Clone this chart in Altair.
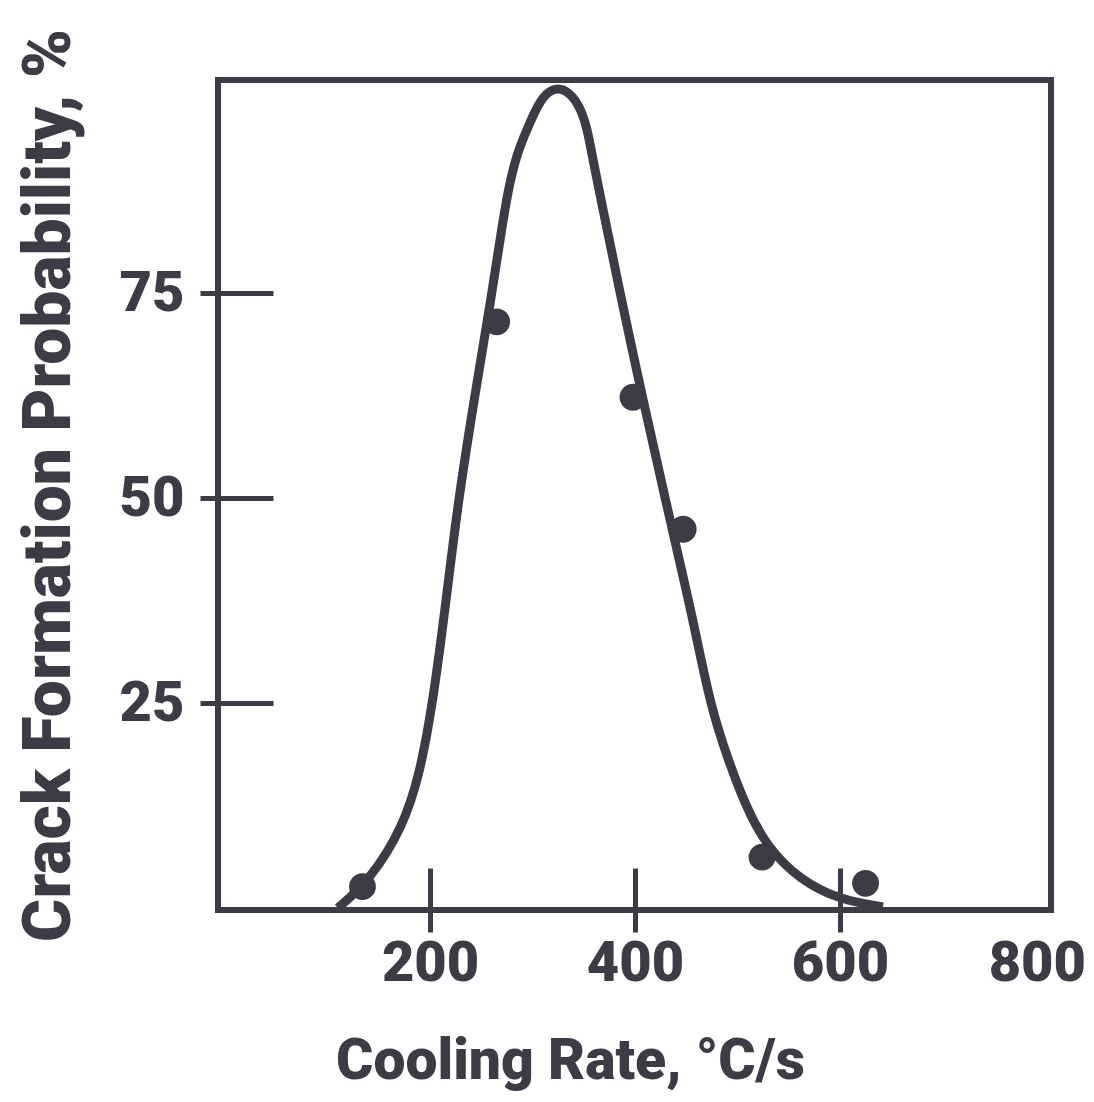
import altair as alt
import pandas as pd

# Fitted curve
curve_x = [110, 141.4, 173.6, 190.2, 202.8, 215.5, 227.2, 242.9, 260.4, 268.2, 276.0, 284.8,
           295.6, 304.3, 313.1, 324.8, 336.6, 346.3, 353.1, 359.0, 364.9, 385.3, 407.8,
           430.2, 452.7, 460.5, 474.2, 489.8, 508.3, 528.8, 561.0, 600.1, 642.0]
curve_y = [0, 3.41, 9.87, 16.46, 25.12, 37.32, 49.52, 61.96, 75.02, 81.48, 87.58, 92.10,
           95.27, 97.71, 99.42, 100.15, 99.42, 97.71, 95.27, 91.24, 87.58, 75.02, 61.96,
           49.52, 37.32, 32.69, 24.51, 18.41, 12.31, 7.44, 3.41, 0.97, 0.12]

# Measured points
point_x = [134, 265, 398, 447, 524, 625]
point_y = [2.6, 71.5, 62.3, 46.2, 6.2, 3.0]

x_ticks = [200, 400, 600, 800]
y_ticks = [25, 50, 75]

INK = "#3c3c46"
FONT = "Roboto"
WEIGHT = 900

curve = pd.DataFrame({"x": curve_x, "y": curve_y})
pts = pd.DataFrame({"x": point_x, "y": point_y})

xscale = alt.Scale(domain=[-7, 806], nice=False, zero=False)
yscale = alt.Scale(domain=[-0.25, 101], nice=False, zero=False)

xaxis = alt.Axis(
    values=x_ticks, title="Cooling Rate, °C/s", domain=False, grid=False,
    offset=-42, tickSize=64, tickWidth=5, tickColor=INK,
    tickOpacity={"condition": {"test": "datum.value == 800", "value": 0}, "value": 1},
    labelFont=FONT, labelFontWeight=WEIGHT, labelFontSize=56, labelColor=INK,
    labelPadding=4, labelFlush=False,
    labelOffset={"condition": {"test": "datum.value == 800", "value": -8}, "value": 0},
    titleFont=FONT, titleFontWeight=WEIGHT, titleFontSize=57, titleColor=INK,
    titlePadding=42, titleX=352,
)
yaxis = alt.Axis(
    values=y_ticks, title="Crack Formation Probability, %", domain=False, grid=False,
    offset=-55, tickSize=73, tickWidth=5, tickColor=INK,
    labelFont=FONT, labelFontWeight=WEIGHT, labelFontSize=56, labelColor=INK,
    labelPadding=16, labelFlush=False,
    titleFont=FONT, titleFontWeight=WEIGHT, titleFontSize=66, titleColor=INK,
    titlePadding=36, titleY=405,
)

line = alt.Chart(curve).mark_line(
    color=INK, strokeWidth=9, interpolate="basis", clip=True
).encode(
    x=alt.X("x:Q", scale=xscale, axis=xaxis),
    y=alt.Y("y:Q", scale=yscale, axis=yaxis),
)

dots = alt.Chart(pts).mark_circle(color=INK, opacity=1, size=720).encode(
    x=alt.X("x:Q", scale=xscale),
    y=alt.Y("y:Q", scale=yscale),
)

chart = alt.layer(line, dots).properties(
    width=833, height=830,
    autosize=alt.AutoSizeParams(type="none"),
    padding={"left": 210, "top": 72, "right": 35, "bottom": 184},
    background="white",
).configure_view(
    stroke=INK, strokeWidth=6
)

chart.save("out.html", embed_options={"renderer": "svg", "actions": False})
